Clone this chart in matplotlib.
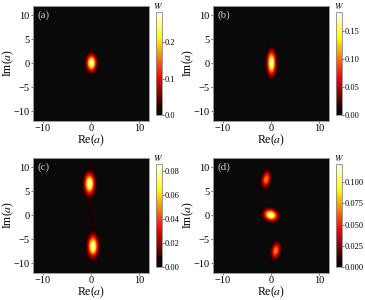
import numpy as np
import matplotlib
matplotlib.use("Agg")
import matplotlib.pyplot as plt
from matplotlib.colors import LinearSegmentedColormap

plt.rcParams['font.family'] = ['Liberation Serif', 'DejaVu Serif']
plt.rcParams['mathtext.fontset'] = 'stix'

panel_labels = ['(a)', '(b)', '(c)', '(d)']
# blobs: centre x, centre y, sigma x, sigma y, tilt (deg), amplitude
blobs_a = [(0.1, 0.0, 0.62, 1.05, 0, 0.285)]
blobs_b = [(0.1, 0.0, 0.55, 1.55, 0, 0.185)]
blobs_c = [(-0.3, 6.5, 0.65, 1.35, 0, 0.085), (0.4, -6.5, 0.65, 1.35, 0, 0.085),
           (0.0, 0.0, 0.35, 3.2, 8, 0.006)]
blobs_d = [(-0.05, 0.0, 0.88, 0.7, -22, 0.122), (-1.0, 7.4, 0.55, 1.05, -12, 0.072),
           (1.0, -7.4, 0.55, 1.05, -12, 0.072)]
all_blobs = [blobs_a, blobs_b, blobs_c, blobs_d]
vmax_values = [0.285, 0.185, 0.086, 0.122]
cbar_ticks = [[0.0, 0.1, 0.2], [0.0, 0.05, 0.10, 0.15],
              [0.0, 0.02, 0.04, 0.06, 0.08], [0.0, 0.025, 0.05, 0.075, 0.10]]
cbar_fmts = ['%.1f', '%.2f', '%.2f', '%.3f']
axis_ticks = [-10, -5, 0, 5, 10]
x_ticks = [-10, 0, 10]

W, H = 365, 300
axes_px = [(33, 5.5, 148.5, 121), (213.3, 5.5, 329, 121),
           (33, 157.5, 148.5, 273), (213.3, 157.5, 329, 273)]
cbar_px = [(155.5, 11.5, 161.5, 115), (336, 11.5, 341.5, 115),
           (155.5, 163.5, 161.5, 267), (336, 163.5, 341.5, 267)]

cmap = LinearSegmentedColormap.from_list(
    'w', [(0.0, '#0a0a0a'), (0.07, '#1c0000'), (0.37, '#ff0000'), (0.75, '#ffff00'), (1.0, '#ffffff')])


def rect(p):
    return [p[0] / W, 1 - p[3] / H, (p[2] - p[0]) / W, (p[3] - p[1]) / H]


def field(blobs, X, Y):
    Z = np.zeros_like(X)
    for cx, cy, sx, sy, tilt, amp in blobs:
        t = np.deg2rad(tilt)
        u = (X - cx) * np.cos(t) + (Y - cy) * np.sin(t)
        v = -(X - cx) * np.sin(t) + (Y - cy) * np.cos(t)
        Z = Z + amp * np.exp(-u**2 / (2 * sx**2) - v**2 / (2 * sy**2))
    return Z


fig = plt.figure(figsize=(W / 100, H / 100), dpi=100)
g = np.linspace(-12, 12, 300)
X, Y = np.meshgrid(g, g)
for i in range(4):
    ax = fig.add_axes(rect(axes_px[i]))
    im = ax.imshow(field(all_blobs[i], X, Y), origin='lower', extent=[-12, 12, -12, 12],
                   cmap=cmap, vmin=0, vmax=vmax_values[i], aspect='auto', interpolation='bilinear')
    ax.set_xticks(x_ticks)
    ax.set_yticks(axis_ticks)
    ax.tick_params(labelsize=7.5, length=1.5, width=0.5, pad=1, color='#333333')
    for s in ax.spines.values():
        s.set_color('#999999')
        s.set_linewidth(0.7)
    ax.set_xlabel(r'Re($a$)', fontsize=8.5, va='center')
    ax.set_ylabel(r'Im($a$)', fontsize=8.5, va='center')
    ax.xaxis.set_label_coords(0.5, -0.17)
    ax.yaxis.set_label_coords(-0.216, 0.5)
    ax.text(0.04, 0.915, panel_labels[i], transform=ax.transAxes, color='#cccccc', fontsize=8, va='center')
    cax = fig.add_axes(rect(cbar_px[i]))
    cb = fig.colorbar(im, cax=cax, ticks=cbar_ticks[i], format=cbar_fmts[i])
    cb.ax.tick_params(labelsize=6, length=1.5, width=0.4, pad=1)
    cb.outline.set_edgecolor('#888888')
    cb.outline.set_linewidth(0.6)
    cax.set_title(r'$W$', fontsize=6.5, pad=1.5)
fig.savefig('out.png', dpi=100)
